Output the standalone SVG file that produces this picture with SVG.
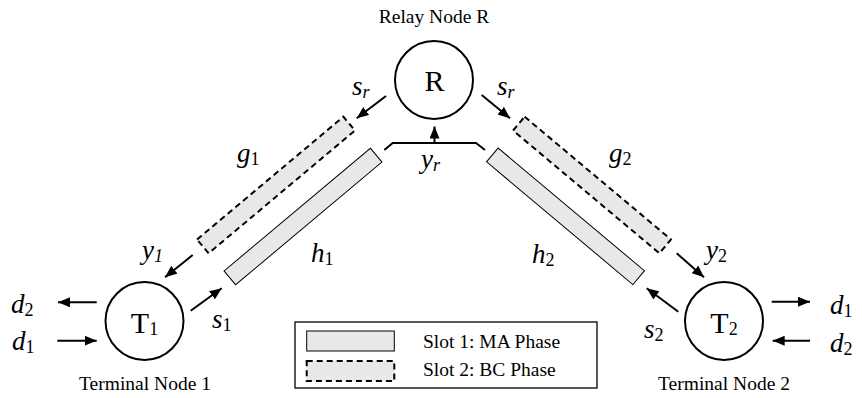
<svg xmlns="http://www.w3.org/2000/svg" width="862" height="398" viewBox="0 0 862 398">
<defs>
<marker id="ah" markerUnits="userSpaceOnUse" markerWidth="13" markerHeight="10" refX="12" refY="5" orient="auto">
<path d="M0,0 L12,5 L0,10 z" fill="#000"/>
</marker>
<style>
.node{fill:#fff;stroke:#000;stroke-width:2}
.bar{fill:#e8e8e8;stroke:#000;stroke-width:1}
.dbar{fill:#e8e8e8;stroke:#000;stroke-width:2;stroke-dasharray:6 4}
.arr{stroke:#000;stroke-width:2;fill:none;marker-end:url(#ah)}
.lbl{font-family:"Liberation Serif","Times New Roman",serif;font-size:19.5px;fill:#000}
.nl{font-family:"Liberation Serif","Times New Roman",serif;font-size:30px;fill:#000}
.m{font-family:"Liberation Serif","Times New Roman",serif;font-size:27px;font-style:italic;fill:#000}
.sub{font-size:18px}
.up{font-style:normal}
</style>
</defs>
<rect width="862" height="398" fill="#fff"/>

<g id="channels">
<rect class="bar" x="-95.5" y="-9" width="191" height="18" transform="translate(303 216.5) rotate(-40)"/>
<rect class="dbar" x="-95.5" y="-9" width="191" height="18" transform="translate(276 185) rotate(-40)"/>
<rect class="bar" x="-95.5" y="-9" width="191" height="18" transform="translate(565.5 216.3) rotate(40)"/>
<rect class="dbar" x="-95.5" y="-9" width="191" height="18" transform="translate(592 185) rotate(40)"/>
<text class="m" x="237" y="162">g<tspan class="sub up" dy="3">1</tspan></text>
<text class="m" x="311" y="262">h<tspan class="sub up" dy="3">1</tspan></text>
<text class="m" x="609" y="162">g<tspan class="sub up" dy="3">2</tspan></text>
<text class="m" x="532" y="263">h<tspan class="sub up" dy="3">2</tspan></text>
</g>

<g id="connectors">
<polyline points="384.3,150 392.7,143 476,143 485,150" fill="none" stroke="#000" stroke-width="2"/>
<line class="arr" x1="434.5" y1="143" x2="434.5" y2="126.5"/>
<line class="arr" x1="386" y1="96" x2="356.7" y2="118.3"/>
<line class="arr" x1="481.7" y1="95" x2="510" y2="118.3"/>
<line class="arr" x1="192.7" y1="255" x2="165" y2="277.3"/>
<line class="arr" x1="190.7" y1="310.7" x2="221.7" y2="288.3"/>
<line class="arr" x1="96.7" y1="302.3" x2="58" y2="302.3"/>
<line class="arr" x1="57.3" y1="340.7" x2="96.7" y2="340.7"/>
<line class="arr" x1="676.7" y1="253.3" x2="704" y2="277.3"/>
<line class="arr" x1="678.3" y1="311.7" x2="646.7" y2="288.3"/>
<line class="arr" x1="771.7" y1="301.7" x2="810" y2="301.7"/>
<line class="arr" x1="810" y1="340.7" x2="772.7" y2="340.7"/>
<text class="m" x="421" y="168">y<tspan class="sub" dy="3">r</tspan></text>
<text class="m" x="352" y="95">s<tspan class="sub" dy="3">r</tspan></text>
<text class="m" x="497" y="95">s<tspan class="sub" dy="3">r</tspan></text>
<text class="m" x="142" y="259">y<tspan class="sub" dy="3">1</tspan></text>
<text class="m" x="212" y="328">s<tspan class="sub up" dy="3">1</tspan></text>
<text class="m" x="11" y="313">d<tspan class="sub up" dy="3">2</tspan></text>
<text class="m" x="12" y="350">d<tspan class="sub up" dy="3">1</tspan></text>
<text class="m" x="706" y="259">y<tspan class="sub up" dy="3">2</tspan></text>
<text class="m" x="644" y="338">s<tspan class="sub up" dy="3">2</tspan></text>
<text class="m" x="830" y="314">d<tspan class="sub up" dy="3">1</tspan></text>
<text class="m" x="830" y="352">d<tspan class="sub up" dy="3">2</tspan></text>
</g>

<g id="relay">
<circle class="node" cx="434" cy="80" r="39"/>
<text class="nl" x="434.5" y="91" text-anchor="middle">R</text>
<text class="lbl" x="434" y="23" text-anchor="middle">Relay Node R</text>
</g>

<g id="terminal1">
<circle class="node" cx="144.5" cy="321" r="39"/>
<text class="nl" x="144.5" y="333" text-anchor="middle">T<tspan font-size="18" dy="2">1</tspan></text>
<text class="lbl" x="145" y="390" text-anchor="middle">Terminal Node 1</text>
</g>

<g id="terminal2">
<circle class="node" cx="724" cy="321" r="39"/>
<text class="nl" x="724" y="333" text-anchor="middle">T<tspan font-size="18" dy="2">2</tspan></text>
<text class="lbl" x="724" y="390" text-anchor="middle">Terminal Node 2</text>
</g>

<g id="legend">
<rect x="295" y="322" width="302" height="66" fill="#fff" stroke="#000" stroke-width="1.3"/>
<rect class="bar" x="306.7" y="331" width="87.6" height="20"/>
<rect class="dbar" x="306.7" y="361" width="87.6" height="20"/>
<text class="lbl" x="423" y="348" font-size="20">Slot 1: MA Phase</text>
<text class="lbl" x="423" y="376" font-size="20">Slot 2: BC Phase</text>
</g>
</svg>
